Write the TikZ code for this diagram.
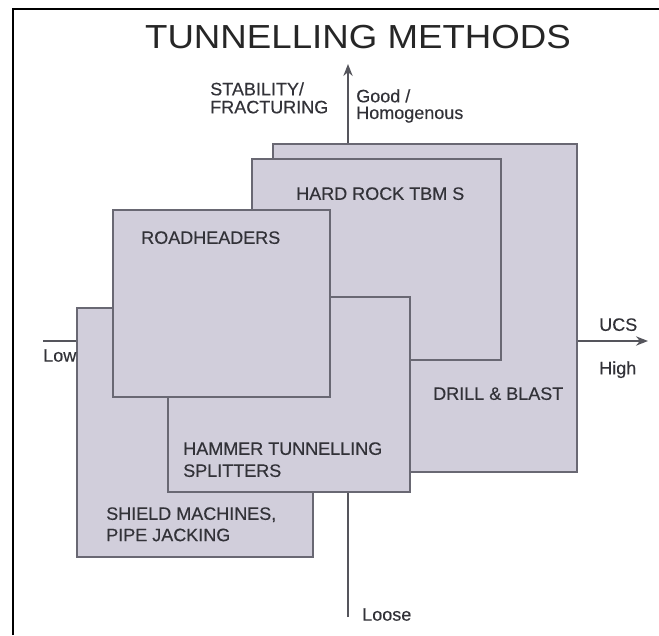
\documentclass[tikz,border=0pt]{standalone}
\usepackage{fontspec}
\setmainfont{Liberation Sans}
\newfontfamily\labelfont[FakeBold=0.35]{Liberation Sans}
\usetikzlibrary{arrows.meta,fit,positioning}

\definecolor{boxfill}{RGB}{209,206,219}
\definecolor{boxline}{RGB}{105,104,115}
\definecolor{axisgray}{RGB}{85,85,92}
\definecolor{labelgray}{RGB}{50,50,56}

\tikzset{
  methodbox/.style={draw=boxline, fill=boxfill, line width=1.5pt, inner sep=0pt, outer sep=0pt},
  axisline/.style={draw=axisgray, line width=1.1pt, -{Stealth[length=9pt,width=7pt]}},
  boxlabel/.style={anchor=north west, inner sep=0pt, text=labelgray, align=left,
    font=\labelfont\fontsize{13.5}{16}\selectfont},
}

\begin{document}
\begin{tikzpicture}[x=0.75pt, y=-0.75pt]
  \useasboundingbox (0,0) rectangle (659,635);
  % frame
  \draw[line width=1.5pt] (13,635) -- (13,9) -- (659,9);
  \node[anchor=north, inner sep=0pt, font=\fontsize{25}{28}\selectfont, text=black!85,
    xscale=1.1, transform shape] (title) at (358,25) {TUNNELLING METHODS};

  % axes
  \coordinate (lowend) at (43,341);
  \coordinate (ucsend) at (648,341);
  \coordinate (looseend) at (348,617);
  \coordinate (goodend) at (348,64);
  \draw[axisline] (lowend) -- (ucsend);
  \draw[axisline] (looseend) -- (goodend);

  % boxes, back to front
  \node[methodbox, fit={(273,144) (577,472)}] (drill) {};
  \node[methodbox, fit={(252,159) (501,360)}] (tbm) {};
  \node[methodbox, fit={(77,308) (313,557)}] (shield) {};
  \node[methodbox, fit={(168,297) (410,492)}] (hammer) {};
  \node[methodbox, fit={(113,210) (330,397)}] (road) {};

  % box labels
  \node[boxlabel] (drilltext) at (433,387) {DRILL \& BLAST};
  \node[boxlabel] (tbmtext) at (296,187) {HARD ROCK TBM S};
  \node[boxlabel] (shieldtext) at (106,507) {SHIELD MACHINES,\\PIPE JACKING};
  \node[boxlabel, font=\labelfont\fontsize{13.5}{16.5}\selectfont] (hammertext) at (183,442) {HAMMER TUNNELLING\\SPLITTERS};
  \node[boxlabel] (roadtext) at (141,231) {ROADHEADERS};

  % axis labels
  \node[boxlabel, font=\labelfont\fontsize{13.5}{13.5}\selectfont] (stability) at (210,82) {STABILITY/\\FRACTURING};
  \node[boxlabel, font=\labelfont\fontsize{13.5}{12.5}\selectfont] (good) at (356,89) {Good /\\Homogenous};
  \node[boxlabel] (low) at (43,349) {Low};
  \node[boxlabel] (ucs) at (599,318) {UCS};
  \node[boxlabel] (high) at (599,361) {High};
  \node[boxlabel] (loose) at (362,608) {Loose};
\end{tikzpicture}
\end{document}
